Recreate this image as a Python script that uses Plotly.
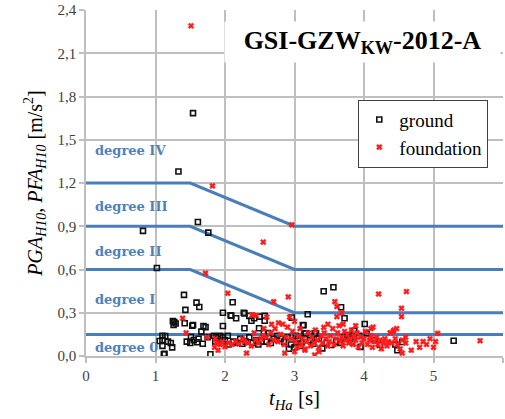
import plotly.graph_objects as go

# ---------------- data ----------------
ground_t = [0.82, 1.02, 1.33, 1.54, 1.61, 1.76,
            1.41, 1.43, 1.59, 1.63, 2.11, 1.97, 2.27, 2.09,
            3.42, 3.56, 3.67, 3.72, 3.19, 2.96, 4.01, 3.13, 3.16, 5.29,
            1.06, 1.10, 1.10, 1.10, 1.12, 1.13, 1.25, 1.27, 1.29, 1.26, 1.14, 1.18, 1.22, 1.24,
            1.42, 1.53, 1.54, 1.69, 1.72, 1.51, 1.66, 1.45, 1.50, 1.55, 1.62, 1.68, 1.60, 1.79, 1.75,
            1.84, 1.87, 1.93, 1.97, 1.97, 1.86, 1.90, 2.00, 2.04, 2.08, 2.16, 2.12, 2.18, 2.05, 1.95,
            2.28, 2.35, 2.38, 2.42, 2.50, 2.57, 2.57, 2.28, 2.49, 2.22, 2.30, 2.35, 2.40, 2.45, 2.52,
            2.56, 2.62, 2.60, 2.66, 2.70, 2.25, 2.48,
            2.75, 2.80, 2.85, 2.90, 2.95, 3.00, 3.05, 3.10, 3.12, 3.14, 3.29, 2.92, 3.02, 3.08, 3.22,
            3.27, 3.35,
            3.31, 3.32, 3.46, 3.40, 3.53, 3.86, 3.93, 4.04, 3.76, 3.83, 3.95, 4.15, 4.23, 4.45, 4.48,
            4.55, 3.60, 3.70, 3.80, 3.66]
ground_v = [0.868, 0.61, 1.28, 1.685, 0.93, 0.856,
            0.424, 0.32, 0.37, 0.34, 0.373, 0.30, 0.30, 0.28,
            0.449, 0.477, 0.338, 0.262, 0.29, 0.266, 0.222, 0.213, 0.157, 0.106,
            0.104, 0.14, 0.11, 0.07, 0.012, 0.015, 0.243, 0.235, 0.225, 0.215, 0.139, 0.10, 0.09, 0.06,
            0.227, 0.21, 0.215, 0.208, 0.20, 0.134, 0.169, 0.10, 0.09, 0.11, 0.12, 0.085, 0.095, 0.012, 0.13,
            0.14, 0.13, 0.14, 0.13, 0.208, 0.10, 0.12, 0.11, 0.14, 0.283, 0.262, 0.10, 0.09, 0.08, 0.09,
            0.296, 0.278, 0.245, 0.262, 0.273, 0.278, 0.245, 0.192, 0.192, 0.12, 0.10, 0.13, 0.09, 0.11, 0.10,
            0.16, 0.16, 0.10, 0.09, 0.12, 0.085, 0.08,
            0.14, 0.12, 0.10, 0.13, 0.08, 0.06, 0.12, 0.09, 0.215, 0.157, 0.157, 0.05, 0.14, 0.07, 0.11,
            0.085, 0.12,
            0.157, 0.12, 0.088, 0.053, 0.076, 0.174, 0.14, 0.157, 0.143, 0.097, 0.063, 0.11, 0.076, 0.08, 0.04,
            0.097, 0.10, 0.13, 0.12, 0.09]

found_t = [1.51, 1.82, 2.96, 2.55, 1.72, 2.04, 2.39, 2.70, 2.91, 1.39, 1.44,
           2.40, 4.21, 4.61, 3.58, 3.61, 3.61, 4.54, 4.54, 5.06, 5.67, 3.42, 3.29,
           1.85, 1.88, 1.90, 1.93, 1.96, 2.00, 2.05, 2.10, 2.15, 2.20, 2.31, 2.25, 2.28, 2.33, 2.38,
           2.44, 2.48, 2.52, 2.55, 2.60, 2.63, 2.66, 2.70, 2.72, 2.76, 2.80, 2.83, 2.85, 2.88, 2.90,
           2.93, 2.95, 2.97, 3.00, 3.02, 3.04, 3.06, 3.08, 3.10, 3.12, 3.15, 3.18, 3.20, 3.23, 3.25,
           3.28, 3.30, 3.33, 3.35, 3.38, 3.40, 3.43, 3.45, 3.48, 3.50, 3.52, 3.55, 3.57, 3.60, 3.62,
           3.64, 3.66, 3.68, 3.70, 3.72, 3.74, 3.76, 3.78, 3.80, 3.82, 3.84, 3.86, 3.88, 3.90, 3.92,
           3.95, 3.97, 4.00, 4.02, 4.05, 4.08, 4.10, 4.12, 4.15, 4.18, 4.20, 4.23, 4.25, 4.28, 4.30,
           4.33, 4.35, 4.38, 4.40, 4.42, 4.45, 4.48, 4.52, 4.55, 4.60, 4.68, 4.75, 4.80, 4.85, 4.90,
           4.95, 5.00, 5.03, 3.48, 3.70, 3.68, 3.88, 4.10, 4.13, 4.38, 2.45, 2.67, 1.86, 1.74, 2.42,
           2.56, 2.77, 2.60, 3.00, 2.86, 3.15, 3.35, 4.55, 4.60, 4.47, 4.43]
found_v = [2.29, 1.18, 0.91, 0.79, 0.574, 0.435, 0.285, 0.377, 0.41, 0.262, 0.16,
           0.285, 0.43, 0.447, 0.377, 0.343, 0.273, 0.331, 0.273, 0.157, 0.106, 0.199, 0.007,
           0.06, 0.09, 0.04, 0.08, 0.10, 0.065, 0.09, 0.08, 0.10, 0.085, 0.02, 0.12, 0.10, 0.09, 0.07,
           0.11, 0.09, 0.12, 0.14, 0.13, 0.08, 0.16, 0.11, 0.19, 0.10, 0.15, 0.22, 0.08, 0.13, 0.20,
           0.27, 0.12, 0.17, 0.24, 0.10, 0.06, 0.14, 0.19, 0.08, 0.12, 0.05, 0.10, 0.16, 0.07, 0.13,
           0.09, 0.18, 0.11, 0.06, 0.14, 0.09, 0.16, 0.12, 0.07, 0.10, 0.14, 0.19, 0.08, 0.12, 0.16,
           0.21, 0.10, 0.13, 0.07, 0.17, 0.11, 0.15, 0.09, 0.12, 0.18, 0.08, 0.14, 0.11, 0.16, 0.06,
           0.13, 0.09, 0.12, 0.17, 0.08, 0.11, 0.14, 0.06, 0.10, 0.13, 0.08, 0.11, 0.05, 0.09, 0.12,
           0.07, 0.10, 0.16, 0.09, 0.17, 0.12, 0.08, 0.05, 0.11, 0.09, 0.04, 0.10, 0.06, 0.10, 0.08,
           0.12, 0.06, 0.10, 0.22, 0.22, 0.30, 0.21, 0.19, 0.20, 0.16, 0.28, 0.22, 0.12, 0.13, 0.16,
           0.19, 0.23, 0.27, 0.03, 0.02, 0.04, 0.03, 0.02, 0.13, 0.19, 0.18]

# degree boundary lines
limit_t = [0, 1.5, 3, 6]
limit_IV = [1.2, 1.2, 0.9, 0.9]
limit_III = [0.9, 0.9, 0.6, 0.6]
limit_II = [0.6, 0.6, 0.3, 0.3]
limit_I = [0.15, 0.15, 0.15, 0.15]

degree_labels = ["degree IV", "degree III", "degree II", "degree I", "degree 0"]
degree_label_y = [1.426, 1.037, 0.724, 0.394, 0.058]

y_ticks = [0.0, 0.3, 0.6, 0.9, 1.2, 1.5, 1.8, 2.1, 2.4]
x_ticks = [0, 1, 2, 3, 4, 5, 6]

# ---------------- figure ----------------
BLUE = "#4a7ebb"
GRID = "#bfbfbf"
SERIF = "Liberation Serif, Times New Roman, serif"

fig = go.Figure()
for lim in [limit_IV, limit_III, limit_II, limit_I]:
    fig.add_trace(go.Scatter(x=limit_t, y=lim, mode="lines",
                             line=dict(color=BLUE, width=3),
                             showlegend=False, hoverinfo="skip"))

fig.add_trace(go.Scatter(x=ground_t, y=ground_v, mode="markers", name="ground",
                         marker=dict(symbol="square-open", size=5, color="#111111",
                                     line=dict(width=1.6, color="#111111"))))
fig.add_trace(go.Scatter(x=found_t, y=found_v, mode="markers", name="foundation",
                         marker=dict(symbol="x", size=5, color="#ff1a1a",
                                     line=dict(width=0.6, color="#ff1a1a"))))

for txt, yy in zip(degree_labels, degree_label_y):
    fig.add_annotation(x=0.1, y=yy, xref="x", yref="y", text="<b>" + txt + "</b>",
                       showarrow=False, xanchor="left", yanchor="middle",
                       font=dict(family="DejaVu Serif", size=13, color="#4f81bd"))

fig.add_annotation(x=0.6631, y=0.9074, xref="paper", yref="paper",
                   text="<b>GSI-GZW<sub>KW</sub>-2012-A</b>", showarrow=False,
                   xanchor="center", yanchor="middle", width=275, height=40,
                   bgcolor="white", borderpad=0,
                   font=dict(family=SERIF, size=26, color="black"))

fig.update_layout(
    width=505, height=419,
    margin=dict(l=86, r=2, t=10, b=63, autoexpand=False),
    paper_bgcolor="white", plot_bgcolor="white",
    separators=",.",
    showlegend=True,
    legend=dict(x=0.653, y=0.741, xanchor="left", yanchor="top",
                bgcolor="white", bordercolor="#404040", borderwidth=1,
                font=dict(family=SERIF, size=19, color="black"),
                tracegroupgap=0, itemwidth=30),
    xaxis=dict(range=[0, 6], tickvals=x_ticks, showgrid=True, gridcolor=GRID, gridwidth=1.5,
               showline=True, linecolor=GRID, linewidth=1.5, zeroline=False, automargin=False,
               ticks="outside", ticklen=5, tickcolor=GRID, tickwidth=1.5,
               tickfont=dict(family=SERIF, size=15, color="#404040"),
               title=dict(text="<i>t<sub>Ha</sub></i> [s]", standoff=8,
                          font=dict(family=SERIF, size=21, color="black"))),
    yaxis=dict(range=[0, 2.4], tickvals=y_ticks, tickformat=".1f", showgrid=True,
               gridcolor=GRID, gridwidth=1.5, automargin=False,
               showline=True, linecolor=GRID, linewidth=1.5, zeroline=False,
               ticks="outside", ticklen=5, tickcolor=GRID, tickwidth=1.5,
               tickfont=dict(family=SERIF, size=15, color="#404040"),
               title=dict(text="<i>PGA<sub>H10</sub></i>, <i>PFA<sub>H10</sub></i> [m/s<sup>2</sup>]",
                          standoff=10, font=dict(family=SERIF, size=20, color="black"))),
)

fig.write_html("out.html", config={"displayModeBar": False},
               post_script="document.body.style.margin='0';")
